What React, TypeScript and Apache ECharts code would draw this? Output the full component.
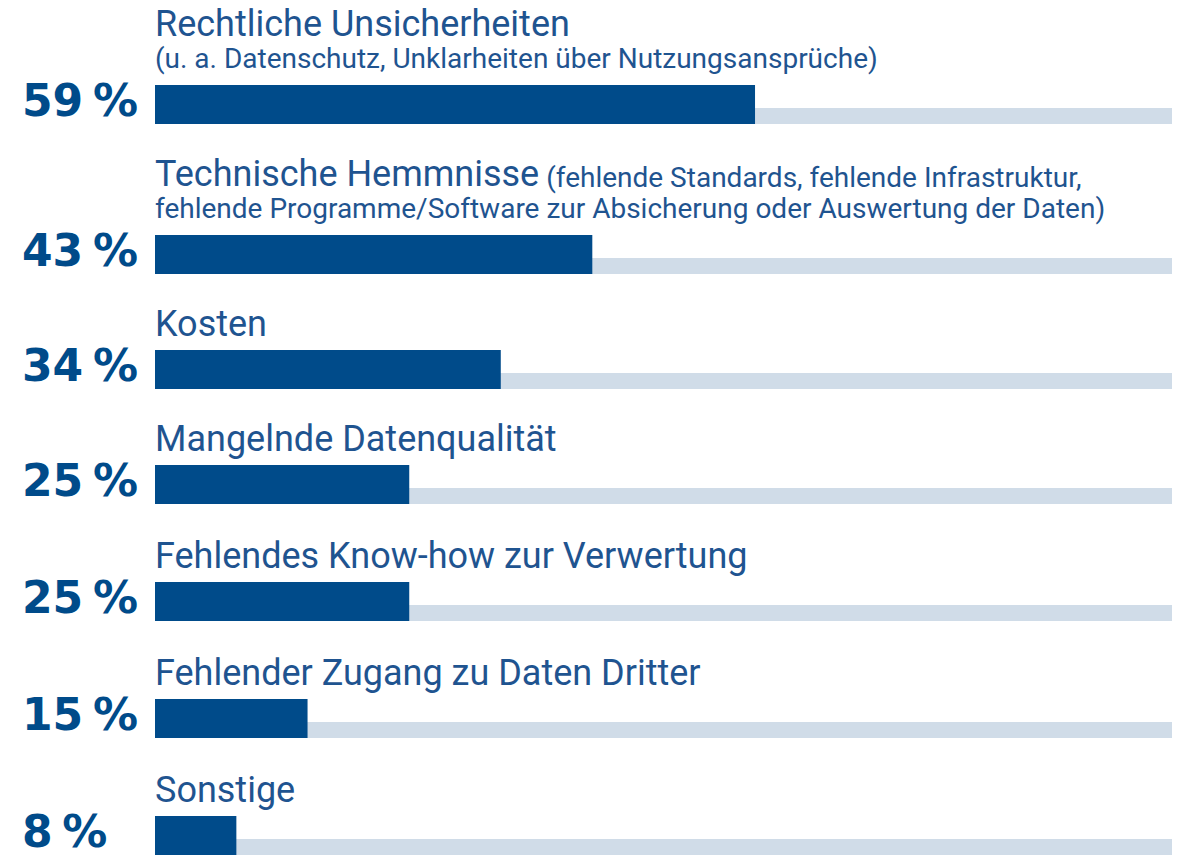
import React, { useEffect, useRef } from "react";
import * as echarts from "echarts";

// ---- data ----
const categories = [
  "Rechtliche Unsicherheiten",
  "Technische Hemmnisse",
  "Kosten",
  "Mangelnde Datenqualität",
  "Fehlendes Know-how zur Verwertung",
  "Fehlender Zugang zu Daten Dritter",
  "Sonstige",
];
const notesInline = [
  "",
  "(fehlende Standards, fehlende Infrastruktur,",
  "",
  "",
  "",
  "",
  "",
];
const notesBelow = [
  "(u. a. Datenschutz, Unklarheiten über Nutzungsansprüche)",
  "fehlende Programme/Software zur Absicherung oder Auswertung der Daten)",
  "",
  "",
  "",
  "",
  "",
];
const values = [59, 43, 34, 25, 25, 15, 8];
const fullScale = 100;

// ---- layout / style ----
const ROW_TOPS = [85, 235, 350, 465, 582, 699, 816];
const LEFT = 155;
const PCT_LEFT = 22;
const PLOT_W = 1017;
const BAR_H = 39;
const TRACK_H = 16;
const BAR_COLOR = "#004b8a";
const TRACK_COLOR = "#d0dce8";
const TEXT_COLOR = "#1f5490";
const TITLE_FONT = "Roboto";
const TITLE_SIZE = 36;
const NOTE_SIZE = 28;
const CENTRAL = 0.34;
const PCT_LH = 34;
// barGap so that the thin track sits flush with the bottom of the thick bar
const GAP = `${(-(TRACK_H / BAR_H) * 100).toFixed(3)}%`;

export default function App() {
  const ref = useRef<HTMLDivElement>(null);

  useEffect(() => {
    if (!ref.current) return;
    const chart = echarts.init(ref.current, undefined, { renderer: "svg" });

    const graphic: any[] = [];
    categories.forEach((name, i) => {
      const top = ROW_TOPS[i];
      const hasBelow = notesBelow[i] !== "";
      const line1Base = hasBelow ? top - 49 : top - 14;
      const inline = notesInline[i];
      graphic.push({
        type: "text",
        x: LEFT,
        y: line1Base - CENTRAL * TITLE_SIZE,
        silent: true,
        style: {
          text: inline ? `{a|${name}}{b| ${inline}}` : `{a|${name}}`,
          fill: TEXT_COLOR,
          align: "left",
          verticalAlign: "middle",
          rich: {
            a: {
              fontFamily: TITLE_FONT,
              fontSize: TITLE_SIZE,
              color: TEXT_COLOR,
              verticalAlign: "bottom",
              lineHeight: TITLE_SIZE,
            },
            b: {
              fontFamily: TITLE_FONT,
              fontSize: NOTE_SIZE,
              color: TEXT_COLOR,
              verticalAlign: "bottom",
              lineHeight: NOTE_SIZE + 2,
            },
          },
        },
      });
      if (hasBelow) {
        const line2Base = top - 17;
        graphic.push({
          type: "text",
          x: LEFT,
          y: line2Base - CENTRAL * NOTE_SIZE,
          silent: true,
          style: {
            text: notesBelow[i],
            fill: TEXT_COLOR,
            fontFamily: TITLE_FONT,
            fontSize: NOTE_SIZE,
            align: "left",
            verticalAlign: "middle",
          },
        });
      }
    });

    const pctToken = (size: number) => ({
      fontFamily: "DejaVu Sans",
      fontWeight: "bold",
      fontSize: size,
      color: BAR_COLOR,
      verticalAlign: "middle",
      lineHeight: PCT_LH,
    });

    const option: any = {
      animation: false,
      grid: values.map((_, i) => ({
        left: LEFT,
        top: ROW_TOPS[i],
        width: PLOT_W,
        height: BAR_H,
        containLabel: false,
      })),
      xAxis: values.map((_, i) => ({
        gridIndex: i,
        type: "value",
        min: 0,
        max: 100,
        show: false,
      })),
      yAxis: values.map((_, i) => ({
        gridIndex: i,
        type: "category",
        data: [categories[i]],
        show: false,
      })),
      series: values.flatMap((v, i) => [
        {
          type: "bar",
          name: categories[i],
          xAxisIndex: i,
          yAxisIndex: i,
          data: [v],
          barWidth: BAR_H,
          barGap: GAP,
          z: 3,
          silent: true,
          itemStyle: { color: BAR_COLOR },
          label: {
            show: true,
            position: [PCT_LEFT - LEFT, BAR_H / 2 - 4],
            align: "left",
            verticalAlign: "middle",
            formatter: (p: any) => `{n|${p.value}}{s| }{p|%}`,
            color: BAR_COLOR,
            rich: {
              n: pctToken(44),
              s: pctToken(28),
              p: pctToken(45),
            },
          },
        },
        {
          type: "bar",
          xAxisIndex: i,
          yAxisIndex: i,
          data: [fullScale],
          barWidth: TRACK_H,
          barGap: GAP,
          z: 2,
          silent: true,
          itemStyle: { color: TRACK_COLOR },
        },
      ]),
      graphic,
    };

    chart.setOption(option);
    return () => chart.dispose();
  }, []);

  return (
    <div
      ref={ref}
      style={{
        position: "fixed",
        left: 0,
        top: 0,
        width: 1183,
        height: 858,
        background: "#ffffff",
      }}
    />
  );
}
